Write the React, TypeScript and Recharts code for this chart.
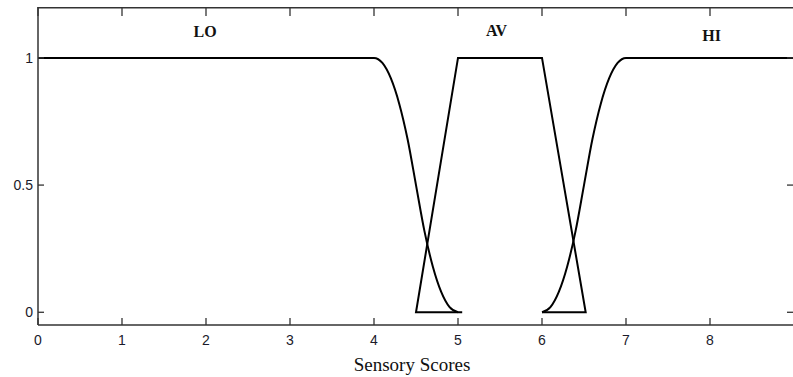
import { LineChart, Line, XAxis, YAxis, ReferenceDot, ReferenceLine } from "recharts";

// membership functions
const loData = [
	{ x: 0, y: 1 },
	{ x: 4, y: 1 },
	{ x: 4.1, y: 0.98 },
	{ x: 4.2, y: 0.92 },
	{ x: 4.3, y: 0.82 },
	{ x: 4.4, y: 0.68 },
	{ x: 4.5, y: 0.5 },
	{ x: 4.6, y: 0.32 },
	{ x: 4.7, y: 0.18 },
	{ x: 4.8, y: 0.08 },
	{ x: 4.9, y: 0.02 },
	{ x: 5, y: 0 },
];
const avData = [
	{ x: 5.05, y: 0 },
	{ x: 4.5, y: 0 },
	{ x: 5, y: 1 },
	{ x: 6, y: 1 },
	{ x: 6.52, y: 0 },
	{ x: 6, y: 0 },
];
const hiData = [
	{ x: 6, y: 0 },
	{ x: 6.1, y: 0.02 },
	{ x: 6.2, y: 0.08 },
	{ x: 6.3, y: 0.18 },
	{ x: 6.4, y: 0.32 },
	{ x: 6.5, y: 0.5 },
	{ x: 6.6, y: 0.68 },
	{ x: 6.7, y: 0.82 },
	{ x: 6.8, y: 0.92 },
	{ x: 6.9, y: 0.98 },
	{ x: 7, y: 1 },
	{ x: 9, y: 1 },
];

const xTicks = [0, 1, 2, 3, 4, 5, 6, 7, 8];
const yTicks = [0, 0.5, 1];
const xDomain = [0, 9];
const yDomain = [-0.05, 1.2];
const setNames = ["LO", "AV", "HI"];
const setLabelX = [1.99, 5.46, 8.02];
const setLabelY = [1.105, 1.11, 1.09];

const W = 800;
const H = 377;
const xAxisH = 52;
const plotTop = 7;
const plotRight = 794;
const plotHeight = H - xAxisH - plotTop;

const axisColor = "#333";
const tickFont = { fontFamily: "Liberation Sans, Arial, sans-serif", fontSize: 14, fill: "#1a1a2a" };
const serif = "Liberation Serif, Times New Roman, serif";

// MATLAB-style inward ticks, mirrored on the top edge
const BottomTick = (props: any) => {
	const { x, y, payload } = props;
	return (
		<g>
			<line x1={x} y1={y} x2={x} y2={y - 7} stroke={axisColor} strokeWidth={1.3} />
			<line x1={x} y1={y - plotHeight} x2={x} y2={y - plotHeight + 9} stroke={axisColor} strokeWidth={1.3} />
			<text x={x} y={y + 20} textAnchor="middle" {...tickFont}>
				{payload.value}
			</text>
		</g>
	);
};

// inward ticks, mirrored on the right edge
const LeftTick = (props: any) => {
	const { x, y, payload } = props;
	return (
		<g>
			<line x1={x} y1={y} x2={x + 6} y2={y} stroke={axisColor} strokeWidth={1.3} />
			<line x1={plotRight} y1={y} x2={plotRight - 7} y2={y} stroke={axisColor} strokeWidth={1.3} />
			<text x={x - 5} y={y + 5} textAnchor="end" {...tickFont}>
				{payload.value}
			</text>
		</g>
	);
};

export default function App() {
	return (
		<div style={{ position: "absolute", left: 0, top: 0, width: 793, height: H, overflow: "hidden", background: "#fff" }}>
			<LineChart width={W} height={H} margin={{ top: plotTop, right: W - plotRight, left: 0, bottom: 0 }}>
				<XAxis
					dataKey="x"
					type="number"
					domain={xDomain}
					ticks={xTicks}
					interval={0}
					height={xAxisH}
					tickSize={0}
					tickMargin={0}
					tickLine={false}
					tick={<BottomTick />}
					axisLine={{ stroke: axisColor, strokeWidth: 1.5 }}
					label={{
						value: "Sensory Scores",
						position: "insideBottom",
						offset: 6,
						dx: -4,
						style: { fontFamily: serif, fontSize: 19, fill: "#111" },
					}}
				/>
				<YAxis
					type="number"
					domain={yDomain}
					ticks={yTicks}
					interval={0}
					width={38}
					tickSize={0}
					tickMargin={0}
					tickLine={false}
					tick={<LeftTick />}
					axisLine={{ stroke: axisColor, strokeWidth: 1.5 }}
				/>
				{/* top edge of the box */}
				<ReferenceLine y={1.197} stroke={axisColor} strokeWidth={1.5} ifOverflow="visible" />
				<Line data={loData} dataKey="y" type="monotone" stroke="#000" strokeWidth={2} dot={false} isAnimationActive={false} />
				<Line data={avData} dataKey="y" type="linear" stroke="#000" strokeWidth={2} dot={false} isAnimationActive={false} />
				<Line data={hiData} dataKey="y" type="monotone" stroke="#000" strokeWidth={2} dot={false} isAnimationActive={false} />
				{setNames.map((name, i) => (
					<ReferenceDot
						key={name}
						x={setLabelX[i]}
						y={setLabelY[i]}
						r={0}
						stroke="none"
						fill="none"
						label={{
							value: name,
							position: "center",
							style: { fontFamily: serif, fontSize: 16, fontWeight: "bold", fill: "#111" },
						}}
					/>
				))}
			</LineChart>
		</div>
	);
}
